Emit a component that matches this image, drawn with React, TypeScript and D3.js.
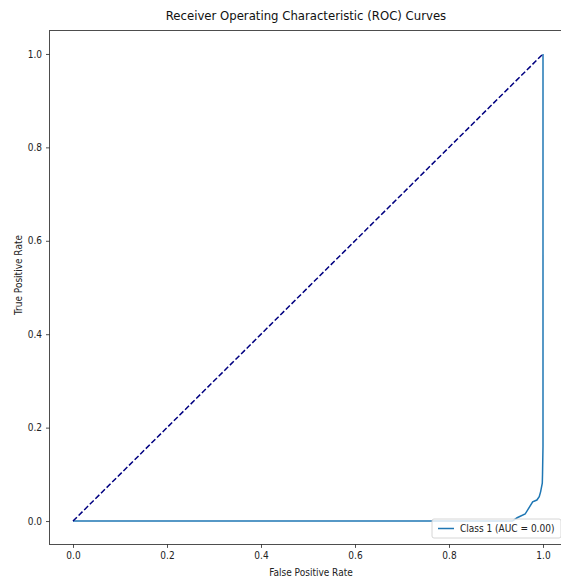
import React, { useRef, useEffect } from 'react';
import * as d3 from 'd3';

// ROC curve for class 1
const fpr = [0, 0.935, 0.945, 0.962, 0.978, 0.987, 0.992, 0.995, 0.9985, 0.999, 1.0, 1.0];
const tpr = [0, 0.0, 0.007, 0.015, 0.041, 0.045, 0.052, 0.063, 0.081, 0.1, 0.16, 1.0];
const chanceLine = [0, 1];
const ticks = [0, 0.2, 0.4, 0.6, 0.8, 1.0];
const legendLabel = 'Class 1 (AUC = 0.00)';

const W = 561;
const H = 579;
const FONT = '"DejaVu Sans Condensed", "DejaVu Sans", sans-serif';

const App = () => {
  const ref = useRef<SVGSVGElement>(null);

  useEffect(() => {
    if (!ref.current) return;
    const svg = d3.select(ref.current);
    svg.selectAll('*').remove();

    const left = 49.5, right = 566.5, top = 30.6, bottom = 544.4;
    const x = d3.scaleLinear().domain([-0.05, 1.05]).range([left, right]);
    const y = d3.scaleLinear().domain([-0.05, 1.05]).range([bottom, top]);

    svg.append('defs').append('clipPath').attr('id', 'plotclip')
      .append('rect').attr('x', left).attr('y', top).attr('width', right - left).attr('height', bottom - top);

    const plot = svg.append('g').attr('clip-path', 'url(#plotclip)');

    const line = d3.line<number>()
      .x((_, i) => x(fpr[i]))
      .y((_, i) => y(tpr[i]));

    plot.append('path')
      .datum(fpr)
      .attr('fill', 'none')
      .attr('stroke', '#1f77b4')
      .attr('stroke-width', 1.5)
      .attr('d', line);

    const diag = d3.line<number>().x(d => x(d)).y(d => y(d));
    plot.append('path')
      .datum(chanceLine)
      .attr('fill', 'none')
      .attr('stroke', 'navy')
      .attr('stroke-width', 1.5)
      .attr('stroke-dasharray', '5.5,2.4')
      .attr('d', diag);

    // spines
    const spine = svg.append('g').attr('stroke', '#222').attr('stroke-width', 0.8).attr('fill', 'none');
    spine.append('rect').attr('x', left).attr('y', top).attr('width', right - left).attr('height', bottom - top);

    // x axis
    const xa = svg.append('g').attr('transform', `translate(0,${bottom})`)
      .call(d3.axisBottom(x).tickValues(ticks).tickFormat(d3.format('.1f')).tickSize(3.5).tickPadding(4));
    xa.select('.domain').remove();
    xa.selectAll('line').attr('stroke', '#222').attr('stroke-width', 0.8);
    xa.selectAll('text').attr('font-family', FONT).attr('font-size', 10).attr('fill', '#222');

    const ya = svg.append('g').attr('transform', `translate(${left},0)`)
      .call(d3.axisLeft(y).tickValues(ticks).tickFormat(d3.format('.1f')).tickSize(3.5).tickPadding(4));
    ya.select('.domain').remove();
    ya.selectAll('line').attr('stroke', '#222').attr('stroke-width', 0.8);
    ya.selectAll('text').attr('font-family', FONT).attr('font-size', 10).attr('fill', '#222');

    svg.append('text')
      .attr('x', (left + right) / 2 - 2).attr('y', 20)
      .attr('text-anchor', 'middle')
      .attr('font-family', FONT).attr('font-size', 13).attr('fill', '#111')
      .text('Receiver Operating Characteristic (ROC) Curves');

    svg.append('text')
      .attr('x', 311).attr('y', 576)
      .attr('text-anchor', 'middle')
      .attr('font-family', FONT).attr('font-size', 10).attr('fill', '#222')
      .text('False Positive Rate');

    svg.append('text')
      .attr('transform', `translate(22,${275}) rotate(-90)`)
      .attr('text-anchor', 'middle')
      .attr('font-family', FONT).attr('font-size', 10).attr('fill', '#222')
      .text('True Positive Rate');

    // legend
    const lg = svg.append('g');
    const lx = 432, ly = 519, lw = 129, lh = 19;
    lg.append('rect')
      .attr('x', lx).attr('y', ly).attr('width', lw).attr('height', lh)
      .attr('rx', 2).attr('fill', 'white').attr('fill-opacity', 0.8)
      .attr('stroke', '#ccc').attr('stroke-width', 0.8);
    lg.append('line')
      .attr('x1', lx + 6).attr('x2', lx + 22).attr('y1', ly + lh / 2).attr('y2', ly + lh / 2)
      .attr('stroke', '#1f77b4').attr('stroke-width', 1.5);
    lg.append('text')
      .attr('x', lx + 28).attr('y', ly + lh / 2 + 3.5)
      .attr('font-family', FONT).attr('font-size', 10).attr('fill', '#222')
      .text(legendLabel);
  }, []);

  return (
    <svg ref={ref} width={W} height={H}
      style={{ position: 'absolute', left: 0, top: 0, background: 'white' }} />
  );
};

export default App;
